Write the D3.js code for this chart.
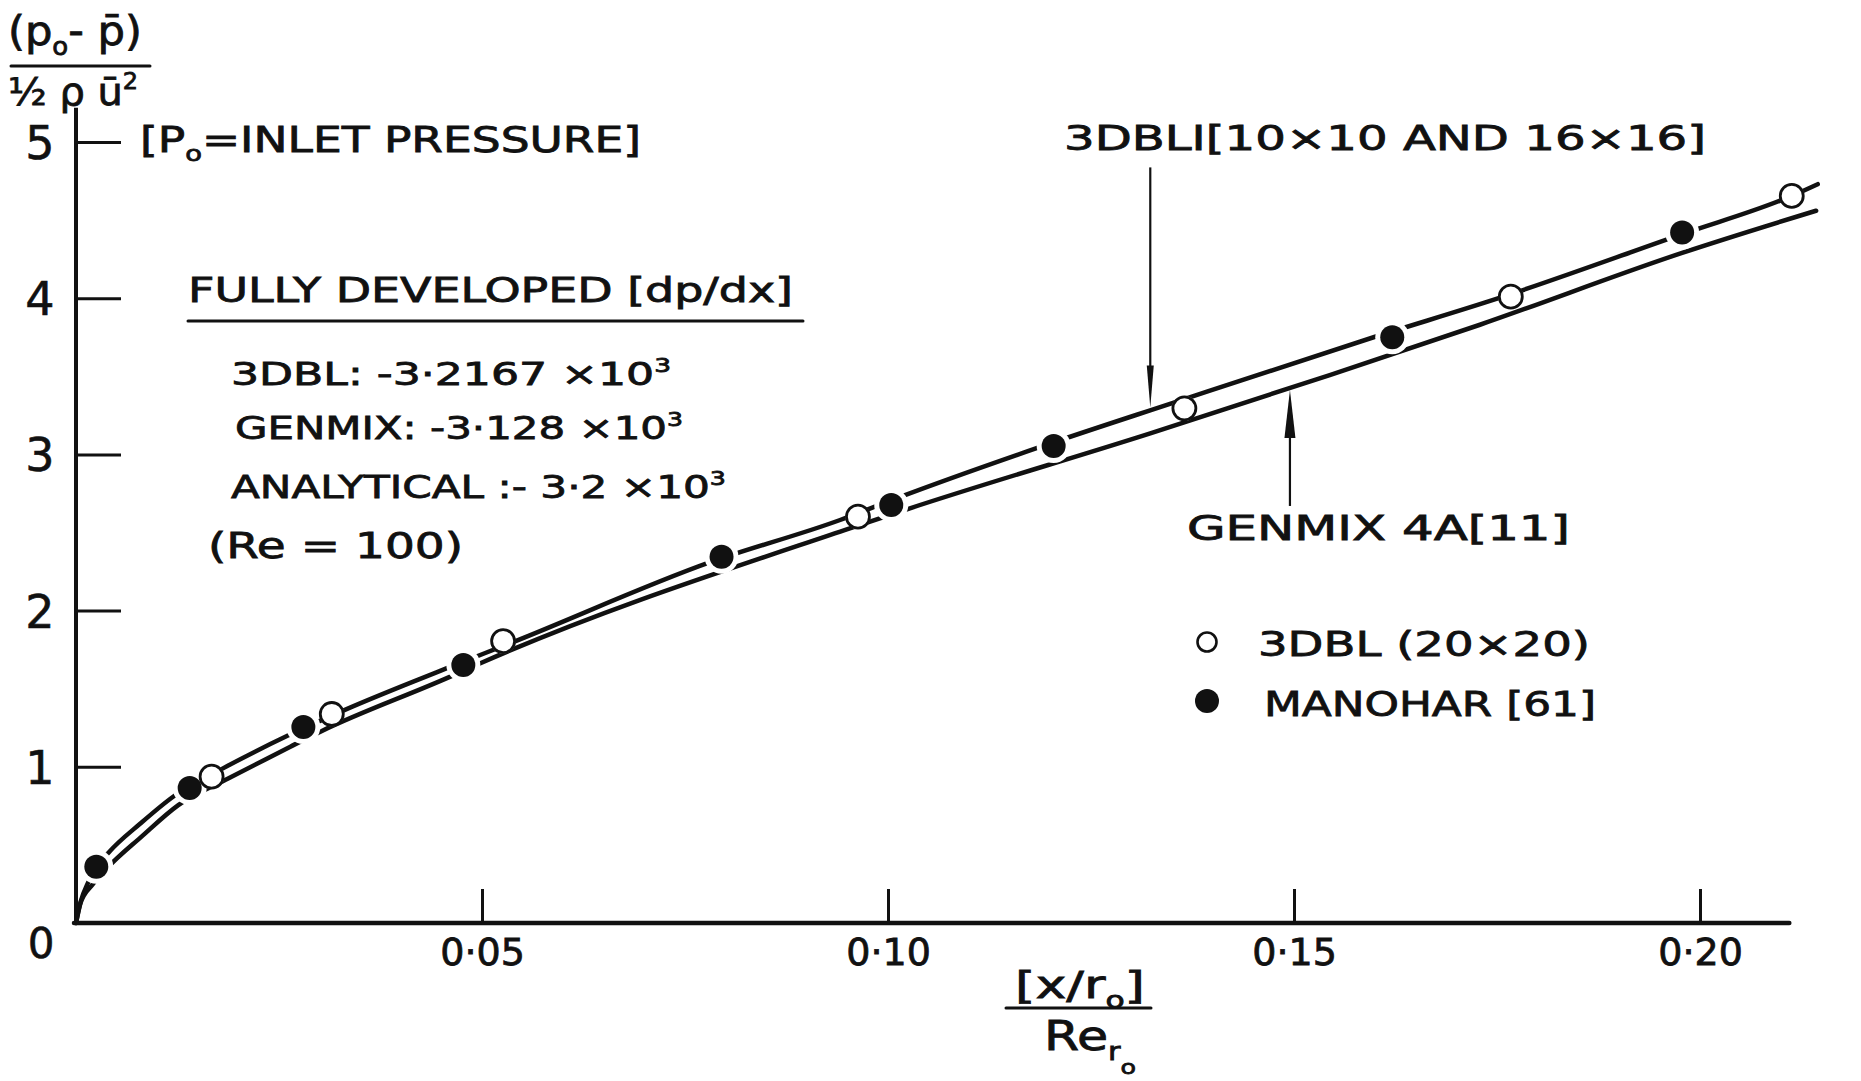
<!DOCTYPE html>
<html>
<head>
<meta charset="utf-8">
<script src="https://cdn.jsdelivr.net/npm/d3@7"></script>
<style>
  html, body { margin: 0; padding: 0; background: #fff; }
  svg { display: block; }
</style>
</head>
<body>
<svg id="chart" width="1861" height="1081"></svg>
<script>
// ---- Data ---------------------------------------------------------------
// 3DBLI prediction [10x10 and 16x16] (upper curve)
const dbliX = [0, 0.0006, 0.0015, 0.0025, 0.0040, 0.0080, 0.0120, 0.0181, 0.0261, 0.0329,
               0.0461, 0.0539, 0.0781, 0.0941, 0.1011, 0.1183, 0.1351, 0.1598, 0.1752,
               0.1978, 0.2113, 0.2145];
const dbliY = [0, 0.14, 0.26, 0.355, 0.45, 0.64, 0.81, 0.99, 1.20, 1.36,
               1.64, 1.80, 2.31, 2.58, 2.72, 3.04, 3.33, 3.75, 4.00,
               4.41, 4.655, 4.73];

// GENMIX 4A [11] prediction (lower curve)
const genmixX = [0, 0.0005, 0.0021, 0.0038, 0.0080, 0.0126, 0.0188, 0.0264, 0.0301, 0.0461,
                 0.0498, 0.0953, 0.1027, 0.1323, 0.1544, 0.1729, 0.1978, 0.2143];
const genmixY = [0, 0.12, 0.25, 0.35, 0.55, 0.755, 0.926, 1.129, 1.225, 1.577,
                 1.663, 2.527, 2.655, 3.135, 3.508, 3.83, 4.29, 4.56];

// 3DBL (20x20) points (open circles)
const dblX = [0.0167, 0.0315, 0.0526, 0.0963, 0.1365, 0.1767, 0.2113];
const dblY = [0.937, 1.338, 1.805, 2.601, 3.295, 4.010, 4.655];

// MANOHAR [61] points (filled circles)
const manoharX = [0.0025, 0.0140, 0.0280, 0.0477, 0.0795, 0.1004, 0.1204, 0.1621, 0.1978];
const manoharY = [0.360, 0.864, 1.255, 1.652, 2.345, 2.676, 3.054, 3.750, 4.420];

// Axis ticks
const xTicks = [0.05, 0.10, 0.15, 0.20];
const xTickLabels = ["0·05", "0·10", "0·15", "0·20"];
const yTicks = [1, 2, 3, 4, 5];
const yTickLabels = ["1", "2", "3", "4", "5"];
const xAxisEnd = 0.211;
const yAxisTop = 5.22;

// Where the two curve-name arrows touch their curves
const arrowDbliAt = 0.1323;
const arrowGenmixAt = 0.1495;

// ---- Setup ----------------------------------------------------------------
const W = 1861, H = 1081;
const INK = "#111";
const FONT = "'DejaVu Sans', 'Noto Sans', sans-serif";
const svg = d3.select("#chart");
svg.append("rect").attr("width", W).attr("height", H).attr("fill", "#fff");

const x = d3.scaleLinear().domain([0, 0.2]).range([76, 1700]);
const y = d3.scaleLinear().domain([0, 5]).range([923, 142]);

const dbli = d3.zip(dbliX, dbliY);
const genmix = d3.zip(genmixX, genmixY);
const dbl = d3.zip(dblX, dblY);
const manohar = d3.zip(manoharX, manoharY);

// piecewise-linear lookup along each curve
const dbliAt = d3.scaleLinear().domain(dbliX).range(dbliY);
const genmixAt = d3.scaleLinear().domain(genmixX).range(genmixY);

// ---- Gaps in the curves around the plotted symbols ------------------------
const defs = svg.append("defs");
const mask = defs.append("mask").attr("id", "symbol-gaps")
  .attr("maskUnits", "userSpaceOnUse")
  .attr("x", 0).attr("y", 0).attr("width", W).attr("height", H);
mask.append("rect").attr("width", W).attr("height", H).attr("fill", "white");
mask.append("g").selectAll("circle").data(manohar).join("circle")
  .attr("cx", d => x(d[0])).attr("cy", d => y(d[1])).attr("r", 17).attr("fill", "black");
mask.append("g").selectAll("circle").data(dbl).join("circle")
  .attr("cx", d => x(d[0])).attr("cy", d => y(d[1])).attr("r", 12.5).attr("fill", "black");

// ---- Curves ---------------------------------------------------------------
const line = d3.line().x(d => x(d[0])).y(d => y(d[1])).curve(d3.curveMonotoneX);
const curves = svg.append("g")
  .attr("mask", "url(#symbol-gaps)")
  .attr("fill", "none").attr("stroke", INK)
  .attr("stroke-width", 4.5).attr("stroke-linecap", "round").attr("stroke-linejoin", "round");
curves.append("path").attr("d", line(dbli));
curves.append("path").attr("d", line(genmix));

// ---- Axes -----------------------------------------------------------------
const xAxis = d3.axisBottom(x).tickValues(xTicks)
  .tickFormat((d, i) => xTickLabels[i]).tickSizeInner(-34).tickSizeOuter(0);
const gx = svg.append("g").attr("transform", `translate(0,${y(0)})`).call(xAxis);
gx.select(".domain").remove();
gx.selectAll(".tick line").attr("stroke", INK).attr("stroke-width", 3);
gx.selectAll(".tick text")
  .attr("y", 15).attr("dy", "0.71em")
  .attr("font-size", 38).attr("font-family", FONT).attr("fill", INK)
  .attr("stroke", INK).attr("stroke-width", 0.8);

const yAxis = d3.axisLeft(y).tickValues(yTicks)
  .tickFormat((d, i) => yTickLabels[i]).tickSizeInner(-45).tickSizeOuter(0);
const gy = svg.append("g").attr("transform", `translate(${x(0)},0)`).call(yAxis);
gy.select(".domain").remove();
gy.selectAll(".tick line").attr("stroke", INK).attr("stroke-width", 3);
gy.selectAll(".tick text")
  .attr("x", -36).attr("dy", "0.36em").attr("text-anchor", "middle")
  .attr("font-size", 46).attr("font-family", FONT).attr("fill", INK)
  .attr("stroke", INK).attr("stroke-width", 0.6);

svg.append("line")
  .attr("x1", x(0) - 2).attr("x2", x(xAxisEnd))
  .attr("y1", y(0)).attr("y2", y(0))
  .attr("stroke", INK).attr("stroke-width", 4.5).attr("stroke-linecap", "round");
svg.append("line")
  .attr("x1", x(0)).attr("x2", x(0))
  .attr("y1", y(0) + 2).attr("y2", y(yAxisTop))
  .attr("stroke", INK).attr("stroke-width", 4);

svg.append("text").text("0")
  .attr("x", x(0) - 35).attr("y", y(0) + 20).attr("dy", "0.36em")
  .attr("text-anchor", "middle")
  .attr("font-size", 42).attr("font-family", FONT).attr("fill", INK)
  .attr("stroke", INK).attr("stroke-width", 0.6);

// ---- Symbols --------------------------------------------------------------
svg.append("g").selectAll("circle").data(dbl).join("circle")
  .attr("cx", d => x(d[0])).attr("cy", d => y(d[1])).attr("r", 11.5)
  .attr("fill", "#fff").attr("stroke", INK).attr("stroke-width", 2.8);
svg.append("g").selectAll("circle").data(manohar).join("circle")
  .attr("cx", d => x(d[0])).attr("cy", d => y(d[1])).attr("r", 12)
  .attr("fill", INK);

// ---- Text helper (sub/superscripts via tspans) ----------------------------
function richText(segs, o) {
  const t = svg.append("text")
    .attr("x", o.x).attr("y", o.y)
    .attr("font-size", o.fs).attr("font-family", FONT).attr("fill", INK)
    .attr("stroke", INK).attr("stroke-width", 0.8);
  let shift = 0;
  segs.forEach(s => {
    const [str, kind] = Array.isArray(s) ? s : [s, ""];
    let target = 0, size = null;
    if (kind === "sub") { target = o.fs * 0.26; size = o.fs * 0.6; }
    if (kind === "sub2") { target = o.fs * 0.6; size = o.fs * 0.5; }
    if (kind === "sup") { target = -o.fs * 0.42; size = o.fs * 0.6; }
    const ts = t.append("tspan").text(str).attr("dy", target - shift);
    if (size) ts.attr("font-size", size);
    shift = target;
  });
  if (o.w) t.attr("textLength", o.w).attr("lengthAdjust", "spacingAndGlyphs");
  return t;
}
function rule(x1, x2, yy, sw) {
  svg.append("line").attr("x1", x1).attr("x2", x2).attr("y1", yy).attr("y2", yy)
    .attr("stroke", INK).attr("stroke-width", sw || 3).attr("stroke-linecap", "round");
}

// y-axis quantity
richText(["(p", ["o", "sub"], "- p\u0304)"], { x: 8, y: 45, fs: 40, w: 134 });
rule(11, 150, 66, 3);
richText(["½ ρ ū", ["2", "sup"]], { x: 8, y: 105, fs: 38, w: 130 });
richText(["[P", ["o", "sub"], "=INLET PRESSURE]"], { x: 140, y: 152, fs: 36, w: 501 });

// x-axis quantity
richText(["[x/r", ["o", "sub"], "]"], { x: 1015, y: 998, fs: 38, w: 130 });
rule(1006, 1151, 1008, 3);
richText(["Re", ["r", "sub"], ["o", "sub2"]], { x: 1044, y: 1050, fs: 40, w: 92 });

// fully developed pressure gradient block
richText(["FULLY DEVELOPED [dp/dx]"], { x: 188, y: 302, fs: 34, w: 605 });
rule(188, 803, 321, 3);
richText(["3DBL: -3·2167 ×10", ["3", "sup"]], { x: 231, y: 385, fs: 32, w: 440 });
richText(["GENMIX: -3·128 ×10", ["3", "sup"]], { x: 235, y: 439, fs: 32, w: 448 });
richText(["ANALYTICAL :- 3·2 ×10", ["3", "sup"]], { x: 231, y: 498, fs: 32, w: 495 });
richText(["(Re = 100)"], { x: 208, y: 558, fs: 36, w: 255 });

// curve names with arrows
richText(["3DBLI[10×10 AND 16×16]"], { x: 1064, y: 150, fs: 34, w: 642 });
richText(["GENMIX 4A[11]"], { x: 1187, y: 540, fs: 34, w: 383 });

const ta = [x(arrowDbliAt), y(dbliAt(arrowDbliAt)) - 3];
svg.append("line").attr("x1", ta[0]).attr("x2", ta[0])
  .attr("y1", ta[1] - 240).attr("y2", ta[1] - 30)
  .attr("stroke", INK).attr("stroke-width", 2.2);
svg.append("path")
  .attr("d", `M${ta[0]},${ta[1]} L${ta[0] - 3.5},${ta[1] - 42} L${ta[0] + 3.5},${ta[1] - 42} Z`)
  .attr("fill", INK);

const tg = [x(arrowGenmixAt), y(genmixAt(arrowGenmixAt)) + 2];
svg.append("line").attr("x1", tg[0]).attr("x2", tg[0])
  .attr("y1", tg[1] + 30).attr("y2", tg[1] + 116)
  .attr("stroke", INK).attr("stroke-width", 2.2);
svg.append("path")
  .attr("d", `M${tg[0]},${tg[1]} L${tg[0] - 5.5},${tg[1] + 48} L${tg[0] + 5.5},${tg[1] + 48} Z`)
  .attr("fill", INK);

// ---- Legend -----------------------------------------------------------------
svg.append("circle").attr("cx", 1207).attr("cy", 642).attr("r", 9.5)
  .attr("fill", "#fff").attr("stroke", INK).attr("stroke-width", 2.6);
richText(["3DBL (20×20)"], { x: 1258, y: 656, fs: 34, w: 332 });
svg.append("circle").attr("cx", 1207).attr("cy", 701).attr("r", 12).attr("fill", INK);
richText(["MANOHAR [61]"], { x: 1264, y: 716, fs: 34, w: 332 });
</script>
</body>
</html>
